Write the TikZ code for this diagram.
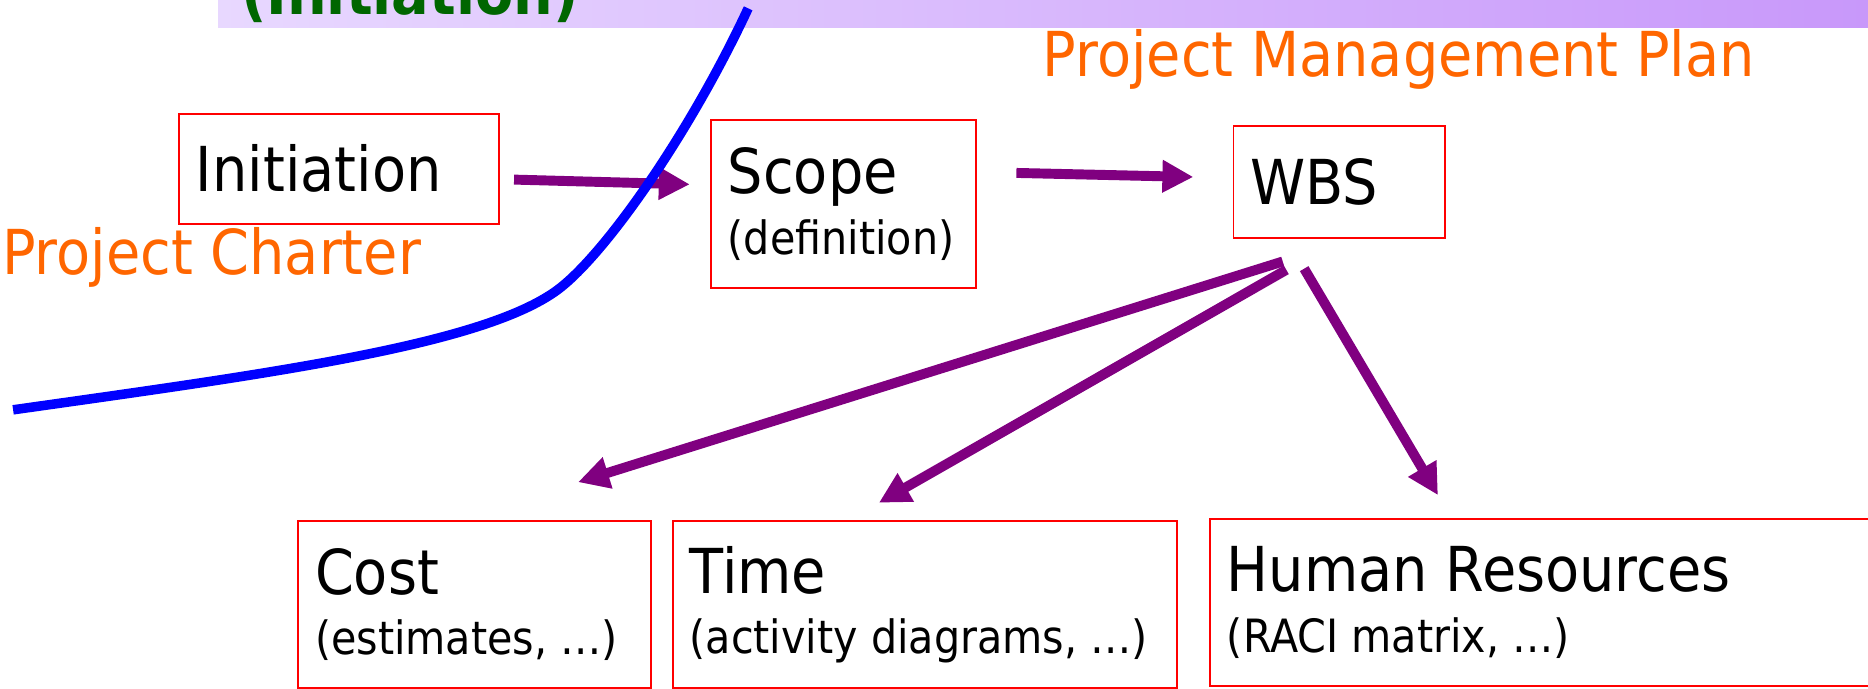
\documentclass[tikz,border=0pt]{standalone}
\usepackage{fontspec}
\setmainfont{DejaVu Sans}[FakeStretch=0.9]
\usepackage{xcolor}
\usetikzlibrary{arrows.meta,calc}

\definecolor{pmorange}{RGB}{255,102,0}
\definecolor{pmpurple}{RGB}{128,0,128}
\definecolor{pmgreen}{RGB}{0,102,0}
\definecolor{barleft}{RGB}{232,216,255}
\definecolor{barright}{RGB}{200,152,250}

\newcommand{\maintxt}{\fontsize{31.2}{30.6}\selectfont}
\newcommand{\subtxt}{\fontsize{23.1}{30.6}\selectfont}

\tikzset{
  phasebox/.style={draw=red, line width=0.9pt, align=flush left, anchor=north west,
    inner xsep=8.5pt, inner ysep=0pt, font=\maintxt},
  flow/.style={draw=pmpurple, line width=5pt, -{Triangle[length=15.6pt,width=15.5pt]}},
  doclabel/.style={text=pmorange, font=\maintxt, anchor=base west, inner sep=0pt}
}

\begin{document}
\begin{tikzpicture}[x=0.6pt, y=-0.6pt]
\useasboundingbox (0,0) rectangle (1568,578);
\clip (0,0) rectangle (1568,578);

% phase banner, cut at the top
\shade[left color=barleft, right color=barright] (183,0) rectangle (1568,22.7);
\node[anchor=base west, inner sep=0pt, text=pmgreen, font=\maintxt\bfseries] (phase) at (202,12) {(Initiation)};

% process steps
\node[phasebox, text width=144.1pt, minimum height=55.2pt] (init) at (149.5,95) {Initiation};
\node[phasebox, text width=116.6pt, minimum height=84.6pt] (scope) at (596,100) {Scope\\{\subtxt (definition)}};
\node[phasebox, text width=89.4pt, minimum height=56.4pt] (wbs) at (1034.6,105) {WBS};
\node[phasebox, text width=160.9pt, minimum height=84.2pt] (cost) at (249.5,436.6) {Cost\\{\subtxt (estimates, …)}};
\node[phasebox, text width=236.8pt, minimum height=84.2pt] (time) at (564,436.6) {Time\\{\subtxt (activity diagrams, …)}};
\node[phasebox, text width=334pt, minimum height=84pt] (hr) at (1015,435) {Human Resources\\{\subtxt (RACI matrix, …)}};

% documents
\node[doclabel] (pmplan) at (875,64.6) {Project Management Plan};
\node[doclabel] (charter) at (1.5,230) {Project Charter};

% arrows
\draw[flow] ($(init.east)+(12,9)$) -- ($(scope.west)+(-17,-16.5)$);
\draw[flow] ($(scope.east)+(33,-26.1)$) -- ($(wbs.west)+(-32.9,-4.2)$);
\draw[flow] ($(wbs.south)+(-47.3,19)$) -- ($(cost.north)+(86.75,-31.9)$);
\draw[flow] ($(wbs.south)+(-44.3,26)$) -- ($(time.north)+(-38.5,-14.6)$);
\draw[flow] ($(wbs.south)+(-29.3,25)$) -- ($(hr.north west)+(192,-19.4)$);

% end of initiation
\draw[blue, line width=4.8pt] (11,344) .. controls (230,313) and (411,289) .. (471,241)
  .. controls (511,209) and (580,110) .. (628,7);
\end{tikzpicture}
\end{document}
